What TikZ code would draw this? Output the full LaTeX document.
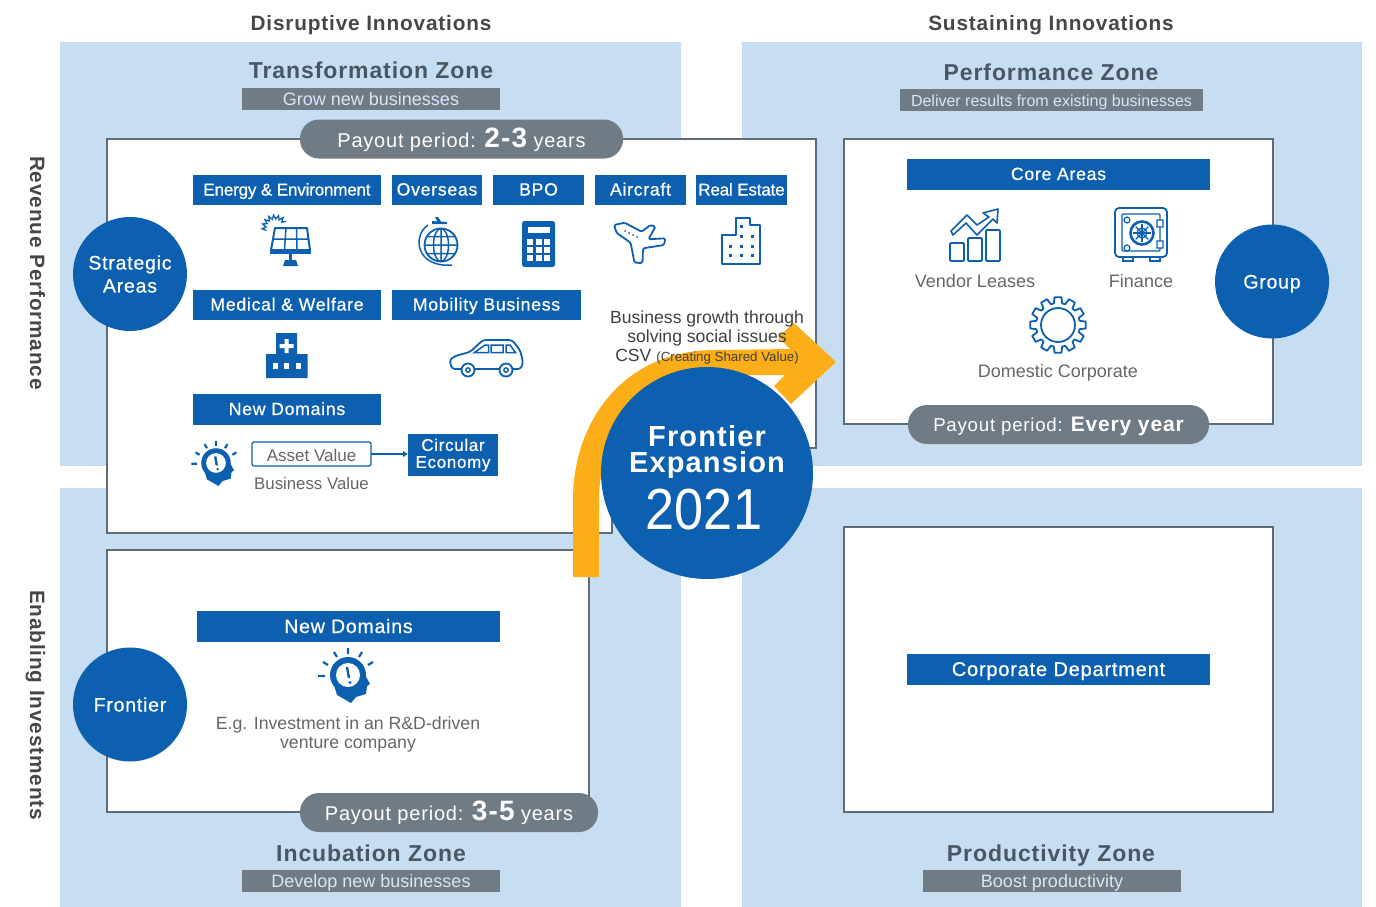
\documentclass[tikz,border=0pt]{standalone}
\usepackage{fontspec}
\setmainfont{Liberation Sans}
\newfontfamily\widefont{Liberation Sans}[LetterSpace=4]
\newfontfamily\medfont{Liberation Sans}[LetterSpace=4,FakeBold=0.6]
\newfontfamily\tightfont{Liberation Sans}[LetterSpace=-1,FakeBold=0.6]
\usetikzlibrary{arrows.meta,positioning}

\definecolor{zoneblue}{HTML}{C6DDF2}
\definecolor{tagblue}{HTML}{0C60AF}
\definecolor{pillgray}{HTML}{6F7B85}
\definecolor{linegray}{HTML}{5F6B74}
\definecolor{headgray}{HTML}{4A5660}
\definecolor{notegray}{HTML}{666666}
\definecolor{arrowgold}{HTML}{FBAE17}

\tikzset{
  bulbhead/.pic={
    \fill[tagblue] (0,0) circle (18);
    \fill[tagblue] (-14,10) -- (-11,20) -- (3,28) -- (8,22) -- (18,19) -- (19,11) -- (22,9) -- (16,-2) -- cycle;
    \fill[white] (0,0) circle (12);
    \draw[tagblue, line width=2.4pt] (-1,-8) -- (1,3);
    \fill[tagblue] (2,7.5) circle (1.6);
    \draw[tagblue, line width=2.2pt] (0,-27) -- (0,-21) (-14,-23) -- (-11,-18) (14,-23) -- (11,-18)
      (-25,-13) -- (-20,-10) (25,-13) -- (20,-10) (-30,1) -- (-23,1);
  }
}

\begin{document}
\begin{tikzpicture}[
    x=1pt, y=-1pt,
    node distance=6pt and 11pt,
    every node/.style={align=center, inner sep=0pt, outer sep=0pt},
    zone/.style={fill=zoneblue, anchor=north west},
    frame/.style={draw=linegray, line width=1.3pt, fill=white},
    heading/.style={font=\widefont\bfseries\fontsize{23}{23}\selectfont, text=headgray, text height=16.5pt, text depth=0pt},
    axislabel/.style={font=\widefont\bfseries\fontsize{20.8}{20.8}\selectfont, text=black!72, text height=15pt, text depth=0pt},
    band/.style={fill=pillgray, text=zoneblue!70!white, minimum height=22pt, font=\fontsize{18}{18}\selectfont, text height=13pt, text depth=0pt},
    tag/.style={fill=tagblue, text=white, minimum height=30pt, font=\medfont\fontsize{17.7}{17.7}\selectfont, text height=11pt, text depth=0pt},
    bigtag/.style={tag, minimum width=303pt, minimum height=31pt, anchor=north west},
    pill/.style={fill=pillgray, text=white, rounded corners=19pt, minimum height=39pt, font=\widefont\fontsize{20}{20}\selectfont, text height=16pt, text depth=0pt},
    disc/.style={circle, fill=tagblue, text=white, minimum size=114pt, font=\medfont\fontsize{19.5}{23}\selectfont},
    note/.style={text=notegray, font=\fontsize{17.7}{19}\selectfont, text height=12.7pt, text depth=0pt},
    icon/.style={draw=tagblue, line width=1.8pt, line join=round},
  ]
  \useasboundingbox (0,0) rectangle (1376,907);

  % Zones
  \node (transformation) [zone, minimum width=621pt, minimum height=424pt] at (60,42) {};
  \node (performance) [zone, minimum width=620pt, minimum height=424pt] at (742,42) {};
  \node (incubation) [zone, minimum width=621pt, minimum height=419pt] at (60,488) {};
  \node (productivity) [zone, minimum width=620pt, minimum height=419pt] at (742,488) {};

  % Frames
  \draw[frame] (107,139) -- (816,139) -- (816,448) -- (612,448) -- (612,533) -- (107,533) -- cycle;
  \draw[frame] (107,550) rectangle (589,812);
  \draw[frame] (844,139) rectangle (1273,424);
  \draw[frame] (844,527) rectangle (1273,812);

  % Axis labels
  \node (disruptive) [axislabel] at (371,23) {Disruptive Innovations};
  \node (sustaining) [axislabel] at (1051,23) {Sustaining Innovations};
  \node (revenue) [axislabel, rotate=-90] at (37.5,273) {Revenue Performance};
  \node (enabling) [axislabel, rotate=-90] at (37.5,705) {Enabling Investments};

  % Zone titles
  \node (transtitle) [heading] at (371,70.5) {Transformation Zone};
  \node (transband) [band, minimum width=258pt] at (371,99) {Grow new businesses};
  \node (perftitle) [heading] at (1051,72) {Performance Zone};
  \node (perfband) [band, minimum width=303pt, font=\fontsize{16}{16}\selectfont] at (1051.5,100) {Deliver results from existing businesses};
  \node (incubtitle) [heading] at (371,853) {Incubation Zone};
  \node (incubband) [band, minimum width=258pt] at (371,881) {Develop new businesses};
  \node (prodtitle) [heading] at (1051,853) {Productivity Zone};
  \node (prodband) [band, minimum width=258pt] at (1052,881) {Boost productivity};

  % Tags of the strategic areas
  \node (energy) [tag, minimum width=188pt, anchor=north west, font=\tightfont\fontsize{17}{17}\selectfont] at (193,175) {Energy \& Environment};
  \node (overseas) [tag, minimum width=90pt, right=of energy] {Overseas};
  \node (bpo) [tag, minimum width=91pt, right=of overseas] {BPO};
  \node (aircraft) [tag, minimum width=91pt, right=of bpo] {Aircraft};
  \node (realestate) [tag, minimum width=91pt, right=10pt of aircraft, font=\tightfont\fontsize{17}{17}\selectfont] {Real Estate};
  \node (medical) [tag, minimum width=188pt, anchor=north west] at (193,290) {Medical \& Welfare};
  \node (mobility) [tag, minimum width=189pt, right=of medical] {Mobility Business};
  \node (newdomains) [tag, minimum width=188pt, minimum height=31pt, anchor=north west] at (193,394) {New Domains};
  \node (assetvalue) [draw=tagblue, line width=1.2pt, rounded corners=2pt, minimum width=119pt, minimum height=24pt, note, font=\fontsize{17}{17}\selectfont, text height=14pt, anchor=north west] at (252,442) {Asset Value};
  \node (businessvalue) [note, below=11pt of assetvalue, font=\fontsize{16.8}{17}\selectfont] {Business Value};
  \node (circular) [tag, minimum width=90pt, minimum height=42pt, anchor=north west, font=\medfont\fontsize{17}{17}\selectfont, text height=, text depth=] at (408,434) {Circular\\Economy};
  \draw[-{Latex[length=5pt,width=7pt]}, tagblue, line width=1.8pt] (assetvalue) -- (assetvalue -| circular.west);

  % Tags on the other frames
  \node (coreareas) [bigtag] at (907,159) {Core Areas};
  \node (vendor) [note, font=\fontsize{18}{18}\selectfont] at (975,281) {Vendor Leases};
  \node (finance) [note, font=\fontsize{18}{18}\selectfont] at (1141,281) {Finance};
  \node (domestic) [note, font=\fontsize{18}{18}\selectfont] at (1058,371) {Domestic Corporate};
  \node (frontierdomains) [bigtag, font=\medfont\fontsize{19.5}{19.5}\selectfont, text height=13pt] at (197,611) {New Domains};
  \node (example) [note, text height=, text depth=] at (348,734) {E.g. Investment in an R\&D-driven\\venture company};
  \node (corporate) [bigtag, font=\medfont\fontsize{20}{20}\selectfont, text height=13pt] at (907,654) {Corporate Department};

  % Solar panel
  \fill[white] (275,228) -- (307,228) -- (310,250) -- (271,250) -- cycle;
  \draw[icon, line width=2pt] (275,228) -- (307,228) -- (310,250) -- (271,250) -- cycle;
  \draw[tagblue, line width=1.5pt] (286,228) -- (284.5,250) (296.5,228) -- (297,250) (273,239) -- (308.5,239);
  \draw[tagblue, line width=3pt] (270,252) -- (311,252);
  \draw[tagblue, line width=2.2pt] (290.5,254) -- (290.5,261);
  \fill[tagblue] (283,266) -- (285,260) -- (296,260) -- (298,266) -- cycle;
  \begin{scope}[shift={(275,228)}]
    \draw[tagblue, line width=1.3pt] (165:9) \foreach \a in {165,187,...,320} {-- (\a:9) -- (\a+11:13)};
  \end{scope}

  % Globe
  \draw[icon] (441,245) circle (16.5);
  \draw[tagblue, line width=1.5pt] (441,245) ellipse (7.5 and 16.5) (441,228.5) -- (441,261.5) (424.5,245) -- (457.5,245)
    (427,236.5) -- (455,236.5) (427,253.5) -- (455,253.5);
  \draw[tagblue, line width=1.5pt] (428,225) .. controls (412,236) and (416,268) .. (452,265);
  \fill[tagblue] (432,221) -- (447,222) -- (447,224) -- (432,224) -- cycle;
  \fill[tagblue] (435,217) -- (438,217) -- (442,223) -- (438,223) -- cycle;

  % Calculator
  \fill[tagblue, rounded corners=2.5pt] (522,221) rectangle (555,267);
  \fill[white] (528,227) rectangle (550,233);
  \foreach \kx in {530,538.5,547} \foreach \ky in {242,250,258}
    \fill[white] (\kx-3,\ky-3) rectangle (\kx+3,\ky+3);

  % Plane
  \draw[icon, rounded corners=1.5pt] (614,225) -- (624.6,222.7) -- (641.7,231.7) -- (650.4,225) -- (655.5,226.7) -- (648.4,239.3)
    -- (665.4,238.3) -- (664,245) -- (643,248.3) -- (642.5,263) -- (634.5,262.7) -- (630.6,242.7) -- (616.7,233) -- cycle;
  \foreach \wx/\wy in {625/231,629/233,633/235,637/237}
    \fill[tagblue] (\wx,\wy) circle (1);

  % Building
  \draw[icon] (722,264) -- (722,235) -- (736,235) -- (736,218) -- (750,218) -- (750,225) -- (760,225) -- (760,264) -- cycle;
  \foreach \wx/\wy in {741/236,752/236,730/246,741/246,752/246,730/255,741/255,752/255,741/226}
    \fill[tagblue] (\wx-1.5,\wy-1.5) rectangle (\wx+1.5,\wy+1.5);

  % Hospital
  \fill[tagblue] (276,333) rectangle (297,354) (266,354) rectangle (307.5,378);
  \fill[white] (284.5,339) rectangle (288.5,353) (279.5,344) rectangle (293.5,348);
  \foreach \wx in {275,286.5,298}
    \fill[white] (\wx-2.5,363) rectangle (\wx+2.5,369);

  % Car
  \draw[icon, rounded corners=3pt] (452,369) -- (449.5,360) -- (455,356) -- (470,352) -- (483,340) -- (512,340) -- (520,350) -- (523,362) -- (521,369) -- cycle;
  \draw[tagblue, line width=1.5pt] (474.5,352.5) -- (485,345) -- (488.5,345) -- (488.5,352.5) -- cycle
    (491,345) rectangle (503,352.5) (506,345) -- (510,345) -- (515.5,352.5) -- (506,352.5) -- cycle;
  \foreach \wx in {468,506} {
    \draw[icon, fill=white] (\wx,370) circle (6.5);
    \draw[tagblue, line width=1.4pt] (\wx,370) circle (2.2);
  }

  % Bulb heads
  \pic at (216,463) [scale=.82] {bulbhead};
  \pic at (348,675) {bulbhead};

  % Chart
  \draw[icon, rounded corners=1pt] (950,243) rectangle (964,261) (968,238) rectangle (982,261) (986,230) rectangle (1000,261);
  \draw[icon, line width=1.6pt] (951,231) -- (967,215) -- (977,225) -- (989,217) -- (983,213) -- (998,209) -- (997,223) -- (993,219) -- (977,235) -- (966,223) -- (953,235) -- cycle;

  % Safe
  \draw[icon, rounded corners=4pt] (1115,208) rectangle (1167,257);
  \draw[tagblue, line width=1.3pt, rounded corners=1pt] (1122,214) rectangle (1160,251);
  \draw[tagblue, line width=2.6pt] (1142,233) circle (11.5);
  \draw[tagblue, line width=1.3pt] (1142,233) circle (5);
  \foreach \a in {0,45,...,315}
    \draw[tagblue, line width=1.1pt] (1142,233) -- ++(\a:9);
  \draw[tagblue, line width=1.2pt, fill=white] (1127,220) circle (3) (1127,248) circle (3)
    (1157,220) rectangle (1163,227) (1157,241) rectangle (1163,248);
  \draw[tagblue, line width=1.2pt] (1123,257) rectangle (1133,261) (1150,257) rectangle (1160,261);

  % Gear
  \begin{scope}[shift={(1058,325)}]
    \draw[icon] (-11:22) \foreach \a in {0,30,...,330} {-- (\a-11:22) -- (\a-7:28) -- (\a+7:28) -- (\a+11:22)} -- cycle;
    \draw[icon] (0,0) circle (17);
  \end{scope}

  % Payout periods
  \node (payouta) [pill, minimum width=323pt] at (461.5,139) {Payout period: {\bfseries\fontsize{28}{28}\selectfont 2-3} years};
  \node (payoutb) [pill, minimum width=298pt] at (449,812.5) {Payout period: {\bfseries\fontsize{28}{28}\selectfont 3-5} years};
  \node (payoutc) [pill, minimum width=301pt, font=\widefont\fontsize{18.7}{18.7}\selectfont, text height=13pt] at (1058.5,424.5) {Payout period: {\bfseries\fontsize{21}{21}\selectfont Every year}};

  % Discs
  \node (strategic) [disc] at (130,274) {Strategic\\Areas};
  \node (frontierdisc) [disc, text height=14pt, text depth=0pt] at (130,704.5) {Frontier};
  \node (group) [disc, text height=14pt, text depth=0pt] at (1272,281.5) {Group};

  % Growth arrow and big disc
  \fill[arrowgold] (573,577) -- (573,500) .. controls (573,420) and (625,350) .. (715,350) -- (790,349) -- (778,337) -- (794,323) -- (836,362)
    -- (791,404) -- (774,386) -- (785,375) -- (715,375) .. controls (650,375) and (599,430) .. (599,500) -- (599,577) -- cycle;
  \node (growth) [font=\fontsize{17.6}{19}\selectfont, text=black!75] at (707,337) {Business growth through\\solving social issues\\CSV {\fontsize{13.3}{19}\selectfont (Creating Shared Value)}};
  \node (expansion) [circle, fill=tagblue, minimum size=212pt] at (707,473) {};
  \node (expansiontext) [text=white, font=\widefont\bfseries\fontsize{29}{26}\selectfont] at (707,452) {Frontier\\Expansion};
  \node (year) [text=white, font=\fontsize{58}{58}\selectfont, xscale=.9, text height=41.5pt, text depth=0pt] at (704,508.5) {2021};
\end{tikzpicture}
\end{document}
